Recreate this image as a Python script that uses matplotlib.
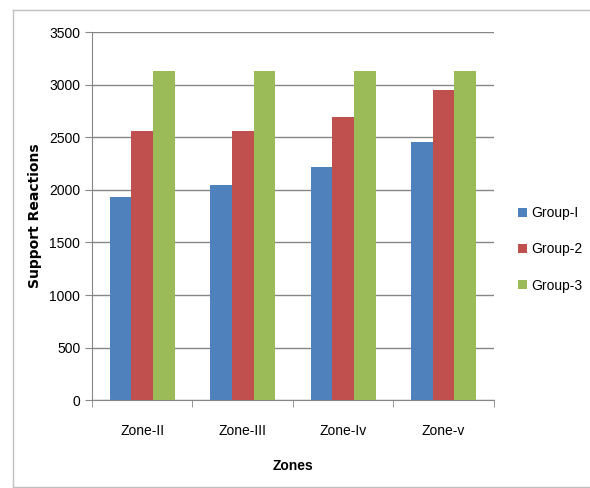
import matplotlib.pyplot as plt
import numpy as np
from matplotlib.lines import Line2D

plt.rcParams['font.family'] = ['Liberation Sans Narrow', 'Liberation Sans', 'DejaVu Sans']

zones = ['Zone-II', 'Zone-III', 'Zone-Iv', 'Zone-v']
groups = ['Group-I', 'Group-2', 'Group-3']
group1 = [1935, 2050, 2215, 2460]
group2 = [2565, 2565, 2695, 2955]
group3 = [3135, 3135, 3135, 3135]

colours = ['#4F81BD', '#C0504D', '#9BBB59']

fig = plt.figure(figsize=(5.9, 4.88), dpi=100)
ax = fig.add_axes([0.156, 0.18, 0.681, 0.754])

# chart frame: left, top and bottom edges only
frame = dict(transform=fig.transFigure, color='#c0c0c0', linewidth=1.0)
fig.lines.append(Line2D([0.022, 0.022], [0.002, 0.98], **frame))
fig.lines.append(Line2D([0.022, 1.0], [0.98, 0.98], **frame))
fig.lines.append(Line2D([0.022, 1.0], [0.003, 0.003], **frame))

x = np.arange(len(zones))
w = 0.215
for i, (vals, name) in enumerate(zip([group1, group2, group3], groups)):
    ax.bar(x + (i - 1)*w, vals, w, color=colours[i], label=name, zorder=3)

ax.set_xlim(-0.5, len(zones) - 0.5)
ax.set_ylim(0, 3500)
ax.set_yticks(np.arange(0, 3501, 500))
ax.yaxis.grid(True, color='#868686', linewidth=1.0, zorder=0)
ax.set_axisbelow(True)

ax.set_xticks(x)
ax.set_xticklabels(zones, fontsize=10)
ax.set_xticks(np.arange(-0.5, len(zones)), minor=True)
ax.tick_params(axis='x', which='major', length=0, pad=17)
ax.tick_params(axis='x', which='minor', length=5, color='#868686')
ax.tick_params(axis='y', length=5, color='#868686', labelsize=10)

for s in ['top', 'right']:
    ax.spines[s].set_visible(False)
for s in ['left', 'bottom']:
    ax.spines[s].set_color('#868686')

ax.set_xlabel('Zones', fontsize=10, fontweight='bold', labelpad=15)
ax.set_ylabel('Support Reactions', fontsize=10, fontweight='bold',
              family='DejaVu Sans', labelpad=5)

ax.legend(loc='center left', bbox_to_anchor=(1.03, 0.41), frameon=False,
          fontsize=10, handlelength=0.6, handleheight=0.6, labelspacing=1.6,
          handletextpad=0.3)

fig.savefig('out.png', dpi=100)
